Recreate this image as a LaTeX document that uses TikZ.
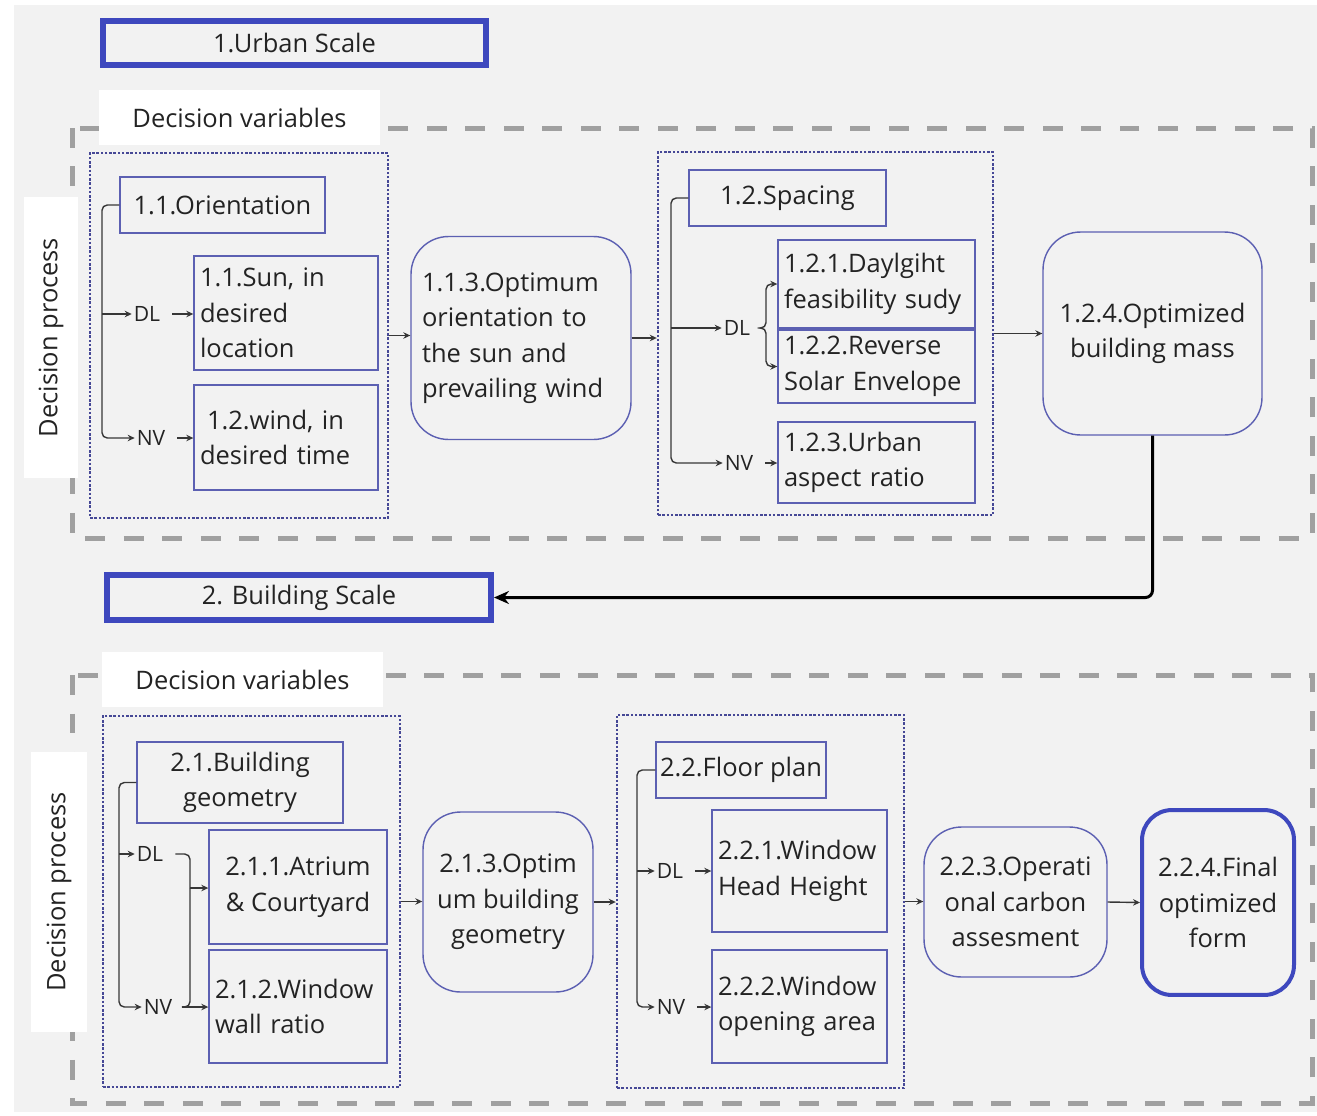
\documentclass[tikz,border=0pt]{standalone}
\usepackage{fontspec}
\setmainfont{Open Sans}
\usepackage{xcolor}
\usepackage{tikz}
\usetikzlibrary{shapes,arrows,arrows.meta,positioning}

\definecolor{bggray}{RGB}{242,242,242}
\definecolor{scaleblue}{RGB}{62,72,190}
\definecolor{boxblue}{RGB}{92,96,178}
\definecolor{dotblue}{RGB}{70,72,150}
\definecolor{dashgray}{RGB}{160,160,160}
\definecolor{linegray}{RGB}{55,55,55}
\definecolor{txt}{RGB}{35,35,35}

\begin{document}
\begin{tikzpicture}[
    x=0.02cm, y=-0.02cm,
    font=\fontsize{14.5}{20.2}\selectfont, text=txt,
    scalebox/.style={rectangle, draw=scaleblue, line width=0.12cm, minimum width=7.66cm, minimum height=0.88cm},
    tagbox/.style={rectangle, fill=white, minimum width=5.62cm, minimum height=1.1cm},
    varbox/.style={rectangle, draw=boxblue, line width=0.8pt, inner xsep=0.12cm, inner ysep=0pt},
    optbox/.style={rectangle, rounded corners=0.75cm, draw=boxblue, line width=0.8pt, inner ysep=0pt},
    groupbox/.style={rectangle, draw=dotblue, line width=0.05cm, dash pattern=on 0.05cm off 0.035cm},
    zonebox/.style={draw=dashgray, line width=0.1cm, dash pattern=on 0.4cm off 0.37cm},
    lbl/.style={font=\fontsize{12}{14}\selectfont, inner sep=1pt},
    arrow/.style={->, >={Stealth[length=0.14cm, width=0.13cm]}, draw=linegray, line width=0.8pt},
    link/.style={draw=linegray, line width=0.8pt},
    gapstart/.style={shorten <=0.2cm}
]
    % background
    \useasboundingbox (0,0) rectangle (1317,1115);
    \fill[white] (0,0) rectangle (1317,1115);
    \fill[bggray] (14,5) rectangle (1317,1112);

    % ---------- 1. urban scale ----------
    \draw[zonebox] (72,128) rectangle (1312,538);
    \node[scalebox] (urban) at (294.5,43) {1.Urban Scale};
    \node[tagbox] (var1) at (239.5,117.5) {Decision variables};
    \node[tagbox, rotate=90, minimum height=1.08cm] (proc1) at (51,337.5) {Decision process};

    \node[groupbox, minimum width=5.96cm, minimum height=7.3cm] (grp1) at (239,335.5) {};
    \node[varbox, minimum width=4.1cm, minimum height=1.12cm] (ori) at (222.5,205) {1.1.Orientation};
    \node[varbox, text width=3.44cm, align=left, minimum height=2.28cm] (sun) at (286,313) {1.1.Sun, in\\desired\\location};
    \node[varbox, text width=3.44cm, align=left, minimum height=2.1cm] (wind) at (286,437.5) {\hspace*{0.14cm}1.2.wind, in\\desired time};
    \node[lbl] (dl1) at (147,314) {DL};
    \node[lbl] (nv1) at (151,438) {NV};
    \node[optbox, text width=3.96cm, inner xsep=0.22cm, align=left, minimum height=4.06cm] (opt1) at (521,338) {1.1.3.Optimum\\orientation to\\the sun and\\prevailing wind};

    \node[groupbox, minimum width=6.7cm, minimum height=7.26cm] (grp2) at (825.5,333.5) {};
    \node[varbox, minimum width=3.94cm, minimum height=1.12cm] (spc) at (787.5,198) {1.2.Spacing};
    \node[varbox, text width=3.7cm, align=left, minimum height=1.76cm] (day) at (876.5,284) {1.2.1.Daylgiht\\feasibility sudy};
    \node[varbox, text width=3.7cm, align=left, minimum height=1.46cm] (rev) at (876.5,366.5) {1.2.2.Reverse\\Solar Envelope};
    \node[varbox, text width=3.7cm, align=left, minimum height=1.62cm] (asp) at (876.5,462.5) {1.2.3.Urban\\aspect ratio};
    \node[lbl] (dl2) at (737,328) {DL};
    \node[lbl] (nv2) at (739,463) {NV};
    \node[optbox, minimum width=4.38cm, minimum height=4.06cm, align=center] (mass) at (1152.5,333.5) {1.2.4.Optimized\\building mass};

    \coordinate (br1) at (102,0);
    \coordinate (br2) at (671,0);
    \coordinate (kn2) at (766,0);
    \draw[arrow, rounded corners=3pt] (ori.west) -| (br1 |- nv1) -- (nv1.west);
    \draw[arrow] (br1 |- dl1) -- (dl1.west);
    \draw[arrow, gapstart] (dl1.east) -- (dl1.east -| sun.west);
    \draw[arrow, gapstart] (nv1.east) -- (nv1.east -| wind.west);
    \draw[arrow] (grp1.east) -- (grp1.east -| opt1.west);
    \draw[arrow] (opt1.east) -- (opt1.east -| grp2.west);
    \draw[arrow, rounded corners=3pt] (spc.west) -| (br2 |- nv2) -- (nv2.west);
    \draw[arrow] (br2 |- dl2) -- (dl2.west);
    \draw[arrow, rounded corners=3pt, gapstart] (dl2.east) -| (kn2 |- day) -- (day.west);
    \draw[arrow, rounded corners=3pt, gapstart] (dl2.east) -| (kn2 |- rev) -- (rev.west);
    \draw[arrow, gapstart] (nv2.east) -- (nv2.east -| asp.west);
    \draw[arrow] (grp2.east) -- (grp2.east -| mass.west);

    % ---------- 2. building scale ----------
    \draw[zonebox] (72,675) rectangle (1312,1103);
    \node[scalebox, minimum width=7.68cm, minimum height=0.9cm] (bld) at (299,597.5) {2. Building Scale};
    \draw[->, >={Stealth[length=0.3cm, width=0.26cm]}, line width=0.06cm, rounded corners=4pt] (mass.south) |- (bld.east);
    \node[tagbox] (var2) at (242.5,679.5) {Decision variables};
    \node[tagbox, rotate=90, minimum width=5.6cm, minimum height=1.12cm] (proc2) at (59,892) {Decision process};

    \node[groupbox, minimum width=5.94cm, minimum height=7.42cm] (grp3) at (251.5,901.5) {};
    \node[varbox, minimum width=4.12cm, minimum height=1.62cm, align=center] (geo) at (240,782.5) {2.1.Building\\geometry};
    \node[varbox, minimum width=3.56cm, minimum height=2.28cm, align=center] (atr) at (298,887) {2.1.1.Atrium\\\& Courtyard};
    \node[varbox, text width=3.32cm, align=left, minimum height=2.26cm] (wwr) at (298,1006.5) {2.1.2.Window\\wall ratio};
    \node[lbl] (dl3) at (150,854) {DL};
    \node[lbl] (nv3) at (158,1007) {NV};
    \node[optbox, minimum width=3.4cm, minimum height=3.6cm, align=center] (opt2) at (508,902) {2.1.3.Optim\\um building\\geometry};

    \node[groupbox, minimum width=5.74cm, minimum height=7.46cm] (grp4) at (760.5,901.5) {};
    \node[varbox, minimum width=3.4cm, minimum height=1.12cm, inner xsep=0pt] (flr) at (741,770) {2.2.Floor plan};
    \node[varbox, text width=3.26cm, align=left, minimum height=2.44cm] (head) at (799.5,871) {2.2.1.Window\\Head Height};
    \node[varbox, text width=3.26cm, align=left, minimum height=2.26cm] (open) at (799.5,1006.5) {2.2.2.Window\\opening area};
    \node[lbl] (dl4) at (670,871) {DL};
    \node[lbl] (nv4) at (671,1007) {NV};
    \node[optbox, minimum width=3.66cm, minimum height=3.0cm, align=center] (carb) at (1015.5,902) {2.2.3.Operati\\onal carbon\\assesment};
    \node[rectangle, rounded corners=0.6cm, draw=scaleblue, line width=0.08cm, minimum width=3.04cm, minimum height=3.7cm, align=center] (final) at (1218,902.5) {2.2.4.Final\\optimized\\form};

    \coordinate (br3) at (119,0);
    \coordinate (br4) at (637,0);
    \coordinate (kn3) at (190,888);
    \draw[arrow, rounded corners=3pt] (geo.west) -| (br3 |- nv3) -- (nv3.west);
    \draw[arrow] (br3 |- dl3) -- (dl3.west);
    \draw[link, rounded corners=3pt, gapstart] (dl3.east) -| (kn3);
    \draw[link, rounded corners=3pt, shorten <=0.15cm] (nv3.east) -| (kn3);
    \draw[arrow] (kn3) -- (kn3 -| atr.west);
    \draw[arrow, shorten <=0.15cm] (nv3.east) -- (nv3.east -| wwr.west);
    \draw[arrow] (grp3.east) -- (grp3.east -| opt2.west);
    \draw[arrow] (opt2.east) -- (opt2.east -| grp4.west);
    \draw[arrow, rounded corners=3pt] (flr.west) -| (br4 |- nv4) -- (nv4.west);
    \draw[arrow] (br4 |- dl4) -- (dl4.west);
    \draw[arrow, gapstart] (dl4.east) -- (dl4.east -| head.west);
    \draw[arrow, gapstart] (nv4.east) -- (nv4.east -| open.west);
    \draw[arrow] (grp4.east) -- (grp4.east -| carb.west);
    \draw[arrow] (carb.east) -- (final.west);
\end{tikzpicture}
\end{document}
